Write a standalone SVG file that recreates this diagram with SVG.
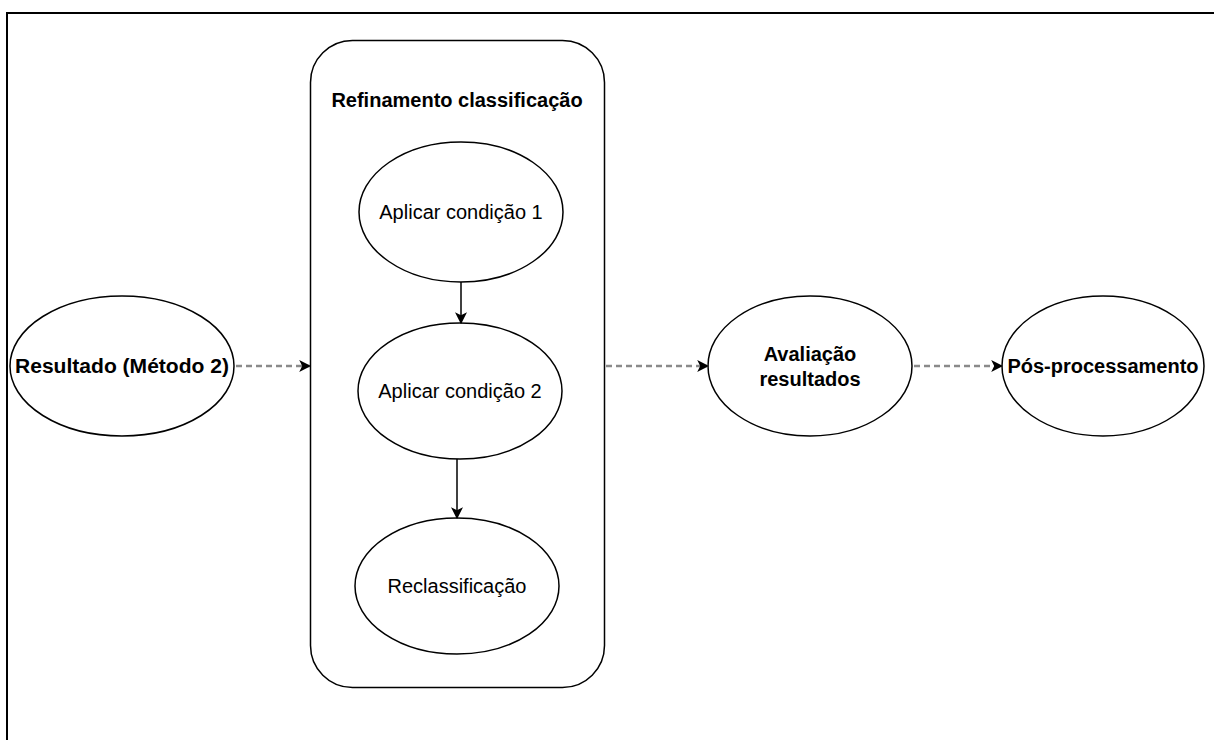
<svg xmlns="http://www.w3.org/2000/svg" width="1214" height="740" viewBox="0 0 1214 740">
<style>
.node{fill:#fff;stroke:#000;stroke-width:1.5}
.t{font-family:"Liberation Sans",Arial,sans-serif;font-size:20px;fill:#000;text-anchor:middle;dominant-baseline:central}
.b{font-weight:bold}
.solid{stroke:#000;stroke-width:1.5;fill:none}
.dash{stroke:#8a8a8a;stroke-width:2.5;stroke-dasharray:6 4;fill:none}
</style>
<defs>
<marker id="ah" viewBox="0 0 10 10" refX="9" refY="5" markerWidth="12" markerHeight="12" markerUnits="userSpaceOnUse" orient="auto">
<path d="M0,0 L10,5 L0,10 L2.5,5 Z" fill="#000"/>
</marker>
</defs>
<rect x="0" y="0" width="1214" height="740" fill="#fff"/>
<path d="M7,740 V13 H1214" fill="none" stroke="#000" stroke-width="2"/>
<g id="refinamento">
<rect x="310.5" y="40.5" width="294" height="647" rx="42" ry="42" class="node"/>
<text x="457" y="100" class="t b">Refinamento classificação</text>
</g>
<g id="resultado">
<ellipse cx="122" cy="366" rx="112" ry="70" class="node"/>
<text x="122" y="366" class="t b" textLength="214" lengthAdjust="spacingAndGlyphs">Resultado (Método 2)</text>
</g>
<g id="cond1">
<ellipse cx="461" cy="212" rx="102" ry="70" class="node"/>
<text x="461" y="212" class="t">Aplicar condição 1</text>
</g>
<g id="cond2">
<ellipse cx="460" cy="391" rx="102" ry="68" class="node"/>
<text x="460" y="391" class="t">Aplicar condição 2</text>
</g>
<g id="reclass">
<ellipse cx="457" cy="586" rx="102" ry="68" class="node"/>
<text x="457" y="586" class="t">Reclassificação</text>
</g>
<g id="avaliacao">
<ellipse cx="810" cy="366" rx="102" ry="70" class="node"/>
<text x="810" y="354" class="t b">Avaliação</text>
<text x="810" y="379" class="t b">resultados</text>
</g>
<g id="pos">
<ellipse cx="1103" cy="366" rx="101" ry="70" class="node"/>
<text x="1103" y="366" class="t b">Pós-processamento</text>
</g>
<g id="connectors">
<line x1="236" y1="366" x2="310" y2="366" class="dash" marker-end="url(#ah)"/>
<line x1="461" y1="282" x2="461" y2="323" class="solid" marker-end="url(#ah)"/>
<line x1="457" y1="459" x2="457" y2="518" class="solid" marker-end="url(#ah)"/>
<line x1="606" y1="366" x2="708" y2="366" class="dash" marker-end="url(#ah)"/>
<line x1="914" y1="366" x2="1002" y2="366" class="dash" marker-end="url(#ah)"/>
</g>
</svg>
